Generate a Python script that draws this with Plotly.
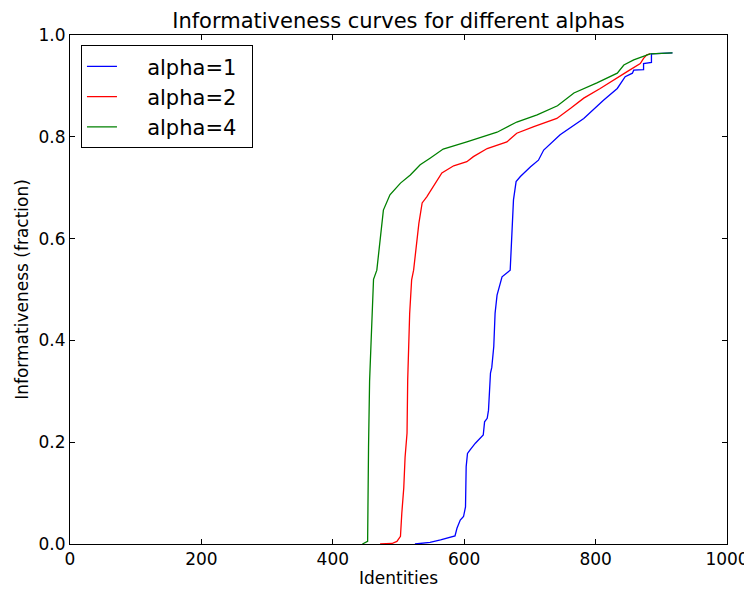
import plotly.graph_objects as go

# alpha=1
blue_x = [525, 548, 564, 586, 589, 594, 599, 602, 603, 605, 609, 617, 629, 631, 635, 637, 640, 642, 645, 647, 650, 655, 657.6, 670, 673, 675, 679, 685.5, 701, 713, 721, 746, 782, 812, 833, 845, 856, 858, 873, 873, 885, 885, 917]
blue_y = [0.0, 0.003, 0.008, 0.016, 0.031, 0.047, 0.054, 0.073, 0.152, 0.178, 0.185, 0.198, 0.214, 0.240, 0.247, 0.263, 0.336, 0.347, 0.388, 0.453, 0.489, 0.515, 0.525, 0.538, 0.617, 0.676, 0.712, 0.722, 0.741, 0.754, 0.774, 0.804, 0.836, 0.872, 0.895, 0.918, 0.925, 0.931, 0.932, 0.944, 0.946, 0.963, 0.965]

# alpha=2
red_x = [472, 490, 497.6, 503, 505, 508, 510, 513, 514, 515.4, 517, 520, 523, 531, 536, 543, 553, 566, 584, 604, 614, 635, 665, 680, 706, 741, 762, 782, 807, 833, 848, 868, 873, 878, 883]
red_y = [0.0, 0.001, 0.005, 0.015, 0.06, 0.11, 0.17, 0.218, 0.322, 0.388, 0.453, 0.519, 0.538, 0.630, 0.670, 0.682, 0.702, 0.729, 0.743, 0.751, 0.761, 0.777, 0.790, 0.807, 0.820, 0.836, 0.856, 0.876, 0.895, 0.915, 0.928, 0.944, 0.954, 0.961, 0.963]

# alpha=4
green_x = [445, 453, 454.4, 456, 458, 459.5, 462, 467, 472, 477, 487, 503, 518, 533, 548, 568, 604, 650, 680, 711, 742, 767, 802, 833, 843, 858, 883, 917]
green_y = [0.0, 0.005, 0.19, 0.32, 0.388, 0.453, 0.52, 0.538, 0.591, 0.656, 0.686, 0.709, 0.725, 0.745, 0.758, 0.776, 0.790, 0.809, 0.829, 0.843, 0.861, 0.886, 0.906, 0.925, 0.941, 0.951, 0.963, 0.965]

x_ticks = [0, 200, 400, 600, 800, 1000]
y_ticks = [0.0, 0.2, 0.4, 0.6, 0.8, 1.0]

series = [
    ("alpha=1", blue_x, blue_y, "#0000ff"),
    ("alpha=2", red_x, red_y, "#ff0000"),
    ("alpha=4", green_x, green_y, "#008000"),
]

fig = go.Figure()
for name, xs, ys, col in series:
    fig.add_trace(go.Scatter(x=xs, y=ys, mode="lines",
                             name="\u2003\u2009" + name + "\u2002",
                             line=dict(color=col, width=1.3)))

font = "DejaVu Sans"
axis_common = dict(showline=True, linecolor="black", linewidth=1, mirror="ticks",
                   ticks="inside", ticklen=5, tickcolor="black", showgrid=False,
                   zeroline=False, automargin=False,
                   tickfont=dict(family=font, size=17, color="black"))

fig.update_layout(
    width=744, height=582,
    margin=dict(l=62, r=25, t=27, b=46),
    paper_bgcolor="white", plot_bgcolor="white",
    title=dict(text="Informativeness curves for different alphas", xref="paper", x=0.5,
               xanchor="center", yref="container", y=0.979, yanchor="middle",
               automargin=False, font=dict(family=font, size=21, color="black")),
    xaxis=dict(range=[0, 1000], tickvals=x_ticks, title=dict(text="Identities", standoff=3,
               font=dict(family=font, size=17, color="black")), **axis_common),
    yaxis=dict(range=[0, 1], tickvals=y_ticks, tickformat=".1f",
               title=dict(text="Informativeness (fraction)", standoff=5,
                          font=dict(family=font, size=17, color="black")), **axis_common),
    legend=dict(x=0.0167, y=0.98, xanchor="left", yanchor="top",
                bordercolor="black", borderwidth=1, bgcolor="white",
                font=dict(family=font, size=21, color="black"),
                itemwidth=30, tracegroupgap=0),
    showlegend=True,
)

fig.write_html("out.html")
